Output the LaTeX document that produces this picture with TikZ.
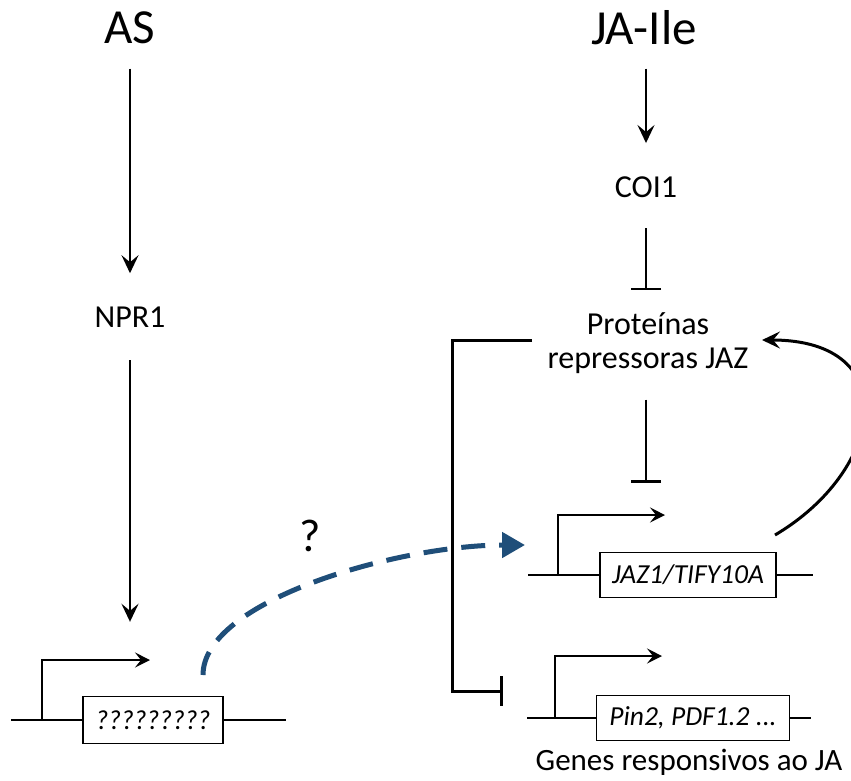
\documentclass[tikz,border=0pt]{standalone}
\usepackage{fontspec}
\setmainfont{Carlito}
\usetikzlibrary{arrows.meta}
\definecolor{sigblue}{RGB}{31,78,121}
\tikzset{
  lbl/.style={inner sep=0pt, font=\fontsize{32}{34}\selectfont},
  big/.style={inner sep=0pt, font=\fontsize{49}{56}\selectfont},
  act/.style={line width=2.6pt, -{Stealth[length=18pt,width=17pt,inset=7pt]}},
  inh/.style={line width=2.6pt, -{Bar[width=30pt]}},
  genebox/.style={draw, line width=1.4pt, fill=white, inner sep=0pt, font=\fontsize{27.5}{30}\selectfont\itshape},
  dna/.style={line width=1.4pt},
  prom/.style={line width=1.4pt, -{Stealth[length=15pt,width=15pt,inset=6pt]}},
  sig/.style={sigblue, line width=5pt, dash pattern=on 24pt off 14pt, -{Triangle[length=23pt,width=25pt]}},
}
\begin{document}
\begin{tikzpicture}[x=1pt,y=-1pt]
\useasboundingbox (0,0) rectangle (851,780);

\node[big, anchor=base] (as) at (130,43) {AS};
\node[big, anchor=base] (ja) at (644,44) {JA-Ile};
\node[lbl, anchor=base] (npr) at (130,327) {NPR1};
\node[lbl, anchor=base] (coi) at (646,197) {COI1};
\node[lbl, align=center] (jaz) at (648,343) {Proteínas\\repressoras JAZ};
\node[lbl, anchor=base, font=\fontsize{31}{34}\selectfont] (resp) at (689,770) {Genes responsivos ao JA};
\node[inner sep=0pt, font=\fontsize{46}{50}\selectfont] (q) at (310,536) {?};

% genes
\draw[dna] (11,720) -- (286,720);
\node[genebox, minimum width=140pt, minimum height=47pt] (g1) at (153,720) {?????????};
\draw[prom] (42,720) |- (150,660);

\draw[dna] (528,575) -- (813,575);
\node[genebox, minimum width=176pt, minimum height=45pt] (g2) at (688,575) {JAZ1/TIFY10A};
\draw[prom] (558,575) |- (665,515);

\draw[dna] (527,718) -- (811,718);
\node[genebox, minimum width=193pt, minimum height=45pt] (g3) at (693,718) {Pin2, PDF1.2 ...};
\draw[prom] (555,718) |- (662,656);

% connectors
\draw[act, shorten <=25pt, shorten >=33pt] (as.south) -- (npr.north);
\draw[act, shorten <=33pt, shorten >=74pt] (npr.south) -- (npr.south |- g1.north);
\draw[act, shorten <=24pt, shorten >=33pt] (coi.north |- ja.south) -- (coi.north);
\draw[inh, shorten <=31pt, shorten >=22pt] (coi.south) -- (coi.south |- jaz.north);
\draw[inh, shorten <=26pt, shorten >=69pt] (coi.south |- jaz.south) -- (coi.south |- g2.north);
\draw[line width=3pt, -{Bar[width=30pt]}] (532,340) -- (452,340) |- (503,691);
\draw[line width=3pt, -{Stealth[length=18pt,width=17pt,inset=7pt]}] (775,535) .. controls (885,470) and (905,340) .. (762,340);

\coordinate (qs) at (203,675);
\coordinate (qe) at (525,545);
\draw[sig] (qs) .. controls (203,600) and (400,545) .. (qe);
\end{tikzpicture}
\end{document}
